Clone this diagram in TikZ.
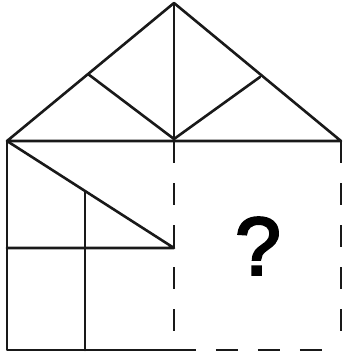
\documentclass[tikz,border=0pt]{standalone}
\usepackage{fontspec}
\setmainfont{Liberation Sans}
\newfontfamily\qfont[FakeBold=3]{Liberation Sans}
\begin{document}
\begin{tikzpicture}[x=1pt,y=-1pt,
  solidline/.style={line width=2.6pt,line cap=round,line join=round,black!90},
  dashline/.style={line width=2.6pt,black!90,dash pattern=on 22pt off 20pt}]
\useasboundingbox (0,0) rectangle (344,360);
% coordinates
\coordinate (A) at (174,3);     % apex
\coordinate (L) at (7,141);     % left eave
\coordinate (R) at (341,141);   % right eave
\coordinate (M) at (174,139);   % centre junction
\coordinate (LM) at (88,74);    % left roof point
\coordinate (RM) at (260,77);   % right roof point
\coordinate (BL) at (7,350);
\coordinate (BM) at (174,350);
\coordinate (BR) at (341,350);
\coordinate (D) at (174,248);   % diagonal end
\coordinate (HL) at (7,248);
\coordinate (VT) at (85,192);
\coordinate (VB) at (85,350);
\coordinate (TM) at (174,141);
% roof
\draw[solidline] (L) -- (A) -- (R) -- cycle;
\draw[solidline] (A) -- (M);
\draw[solidline] (LM) -- (M) -- (RM);
% lower left solid part
\draw[solidline] (L) -- (BL) -- (BM);
\draw[solidline] (L) -- (D) -- (HL);
\draw[solidline] (VT) -- (VB);
% dashed part
\draw[dashline] (TM) -- (BM);
\draw[dashline] (BM) -- (BR);
\draw[dashline] (R) -- (BR);
% question mark
\node[font=\fontsize{82}{82}\qfont,inner sep=0pt] (Q) at (258,246) {?};
\end{tikzpicture}
\end{document}
